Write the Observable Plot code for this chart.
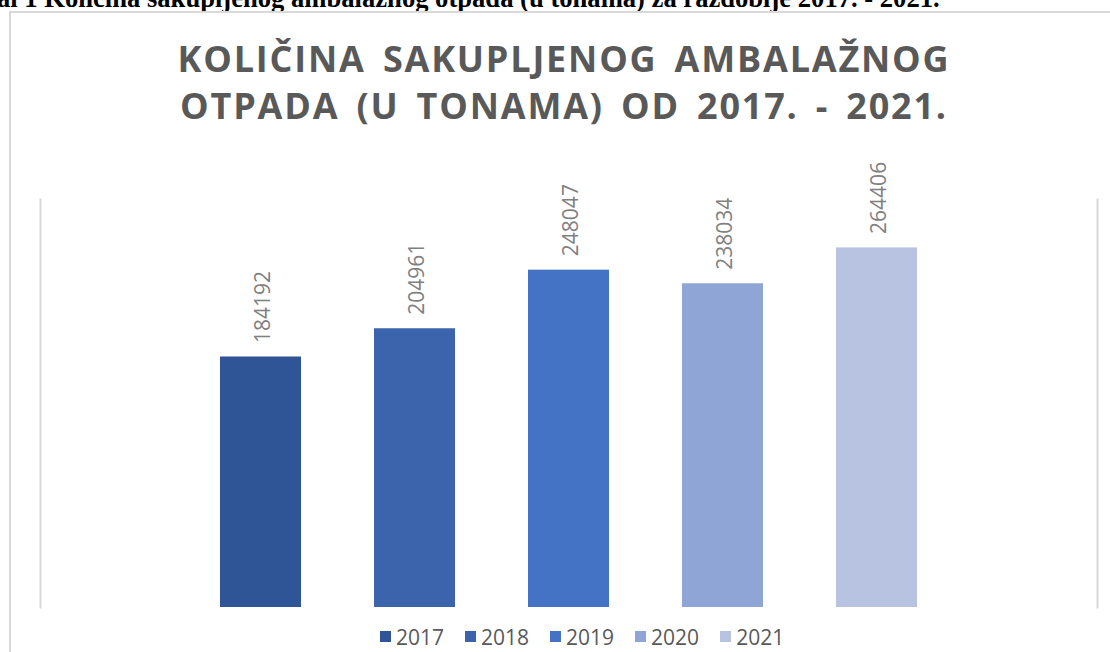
<!DOCTYPE html>
<html>
<head>
<meta charset="utf-8">
<script src="https://cdn.jsdelivr.net/npm/d3@7"></script>
<script src="https://cdn.jsdelivr.net/npm/@observablehq/plot@0.6"></script>
<style>
  html, body { margin: 0; padding: 0; background: #fff; width: 1110px; height: 652px; overflow: hidden; position: relative; }
  #caption { position: absolute; left: -3px; top: -15px; font-family: "Liberation Serif", "Times New Roman", serif; font-weight: bold; font-size: 26.6px; color: #000; white-space: nowrap; line-height: 1; }
  #box { position: absolute; left: 9px; top: 11px; width: 1200px; height: 700px; border-left: 2px solid #d9d9d9; border-top: 2px solid #d9d9d9; box-sizing: border-box; }
  #title { position: absolute; left: 0; width: 1128px; top: 35px; text-align: center; font-family: "Open Sans", sans-serif; font-weight: bold; font-size: 36px; letter-spacing: 1.8px; word-spacing: 6px; color: #595959; line-height: 47px; }
  #chart { position: absolute; left: 0; top: 140px; }
  #legend { position: absolute; left: 380px; top: 620px; }
  #legend > div { font-family: "Open Sans", sans-serif !important; font-size: 21px !important; color: #595959; }
  #legend svg { margin-right: 5px !important; }
</style>
</head>
<body>
<div id="caption">al 1 Količina sakupljenog ambalažnog otpada (u tonama) za razdoblje 2017. - 2021.</div>
<div id="box"></div>
<div id="title">KOLIČINA SAKUPLJENOG AMBALAŽNOG<br>OTPADA (U TONAMA) OD 2017. - 2021.</div>
<div id="chart"></div>
<div id="legend"></div>
<script>
const years = ["2017", "2018", "2019", "2020", "2021"];
const values = [184192, 204961, 248047, 238034, 264406];
const colors = ["#2f5597", "#3b64ac", "#4472c4", "#8fa5d5", "#b8c3e2"];

const data = years.map((y, i) => ({year: y, value: values[i]}));

const colorScale = {type: "ordinal", domain: years, range: colors};

const chart = Plot.plot({
  width: 1110,
  height: 475,
  marginTop: 59,
  marginBottom: 8,
  marginLeft: 40,
  marginRight: 13,
  style: {background: "transparent"},
  x: {domain: years, paddingInner: 0.474, paddingOuter: 0.237, insetLeft: 143, insetRight: 143, axis: null},
  y: {domain: [0, 300000], axis: null},
  color: colorScale,
  marks: [
    Plot.frame({anchor: "left", stroke: "#d9d9d9", strokeWidth: 2, strokeOpacity: 1}),
    Plot.frame({anchor: "right", stroke: "#d9d9d9", strokeWidth: 2, strokeOpacity: 1}),
    Plot.barY(data, {x: "year", y: "value", fill: "year"}),
    Plot.text(data, {x: "year", y: "value", text: d => String(d.value), rotate: -90, textAnchor: "start", dx: 2, dy: -14, fill: "#808080", fontSize: 21, fontFamily: "Open Sans"})
  ]
});
document.getElementById("chart").appendChild(chart);

const leg = Plot.legend({color: colorScale, legend: "swatches", swatchSize: 11, swatchWidth: 11, swatchHeight: 11});
document.getElementById("legend").appendChild(leg);
</script>
</body>
</html>
